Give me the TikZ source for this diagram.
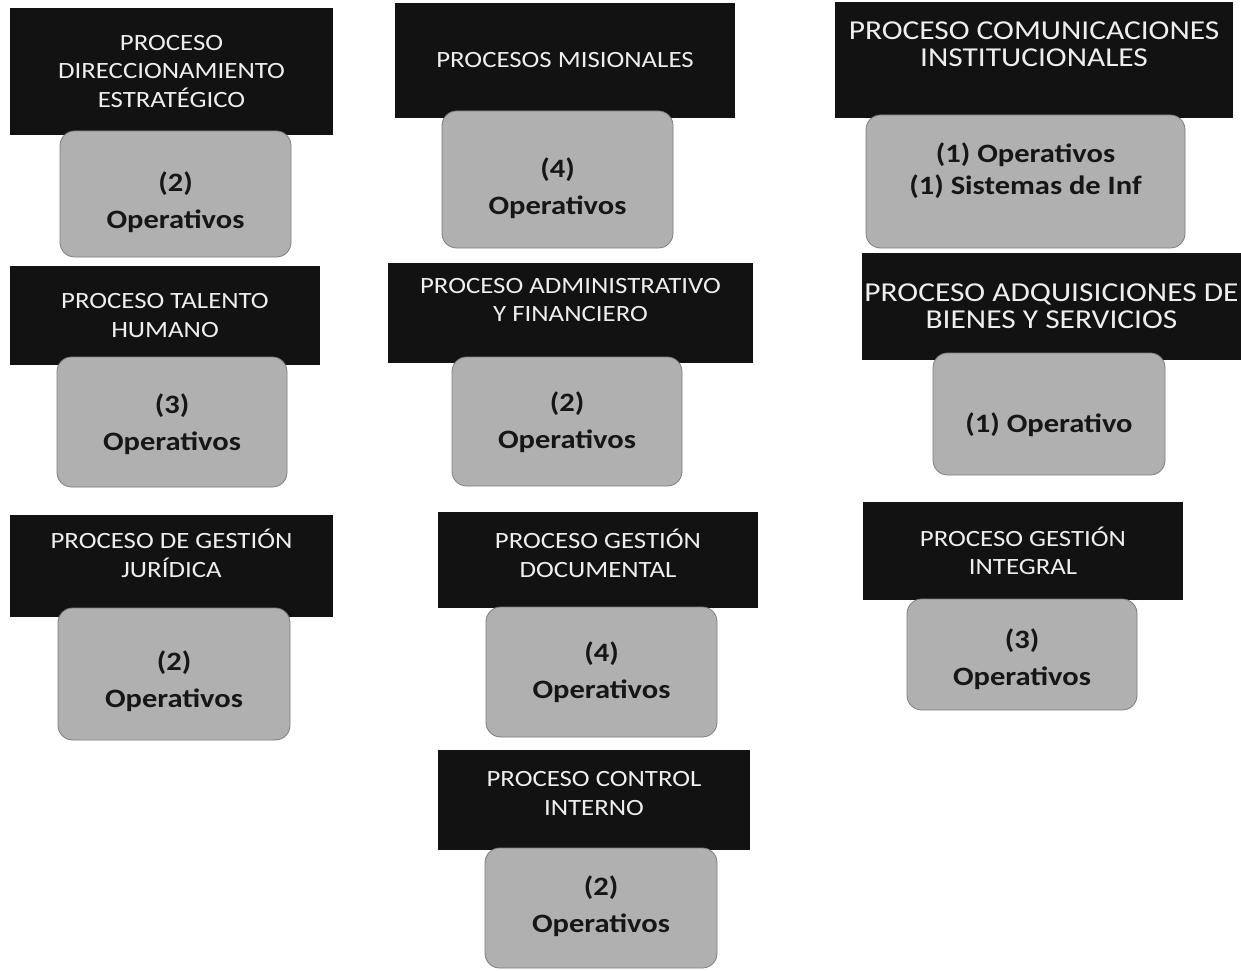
\documentclass[tikz,border=0pt]{standalone}
\usepackage{fontspec}
\setmainfont{Carlito}[FakeStretch=1.15]
\usepackage{tikz}

\definecolor{procfill}{RGB}{18,18,18}
\definecolor{proctext}{RGB}{238,238,238}
\definecolor{opfill}{RGB}{176,176,176}
\definecolor{opline}{RGB}{125,125,125}
\definecolor{optext}{RGB}{22,22,22}

\begin{document}
\begin{tikzpicture}[x=0.75pt,y=-0.75pt,
  proc/.style={fill=procfill,text=proctext,align=center,inner sep=0pt,outer sep=0pt,
    font=\fontsize{17.5}{21.4}\selectfont},
  procbig/.style={proc,font=\fontsize{20.5}{20.5}\selectfont},
  oper/.style={fill=opfill,draw=opline,line width=0.6pt,rounded corners=11pt,
    text=optext,align=center,inner sep=0pt,outer sep=0pt,
    font=\bfseries\fontsize{19.9}{27.75}\selectfont},
  opertight/.style={oper,font=\bfseries\fontsize{19.9}{24}\selectfont},
  drop/.style={text height=#1,text depth=4pt}]
\useasboundingbox (0,0) rectangle (1241,970);
% first column
\node[proc,minimum width=242.25pt,minimum height=95.25pt] (direc) at (171.5,71.5) {PROCESO\\DIRECCIONAMIENTO\\ESTRATÉGICO};
\node[oper,minimum width=173.25pt,minimum height=94.5pt,drop=55pt] (direcop) at (175.5,194) {(2)\\Operativos};
\node[proc,minimum width=232.5pt,minimum height=74.25pt] (talento) at (165,315.5) {PROCESO TALENTO\\HUMANO};
\node[oper,minimum width=172.5pt,minimum height=97.5pt,drop=46pt] (talentoop) at (172,422) {(3)\\Operativos};
\node[proc,minimum width=242.25pt,minimum height=76.5pt,text depth=19.5pt] (juridica) at (171.5,566) {PROCESO DE GESTIÓN\\JURÍDICA};
\node[oper,minimum width=174pt,minimum height=99pt,drop=53.5pt] (juridicaop) at (174,674) {(2)\\Operativos};
% second column
\node[proc,minimum width=255pt,minimum height=86.25pt] (misional) at (565,60.5) {PROCESOS MISIONALES};
\node[oper,minimum width=173.25pt,minimum height=102.75pt,drop=57pt] (misionalop) at (557.5,179.5) {(4)\\Operativos};
\node[proc,minimum width=273.75pt,minimum height=75pt,text depth=19.5pt] (admin) at (570.5,313) {PROCESO ADMINISTRATIVO\\Y FINANCIERO};
\node[oper,minimum width=172.5pt,minimum height=96.75pt,drop=44pt] (adminop) at (567,421.5) {(2)\\Operativos};
\node[proc,minimum width=240pt,minimum height=72pt,text depth=10pt] (docum) at (598,560) {PROCESO GESTIÓN\\DOCUMENTAL};
\node[oper,minimum width=173.25pt,minimum height=97.5pt,drop=43pt] (documop) at (601.5,672) {(4)\\Operativos};
\node[proc,minimum width=234pt,minimum height=75pt,text depth=10pt] (control) at (594,800) {PROCESO CONTROL\\INTERNO};
\node[oper,minimum width=174pt,minimum height=90pt,drop=40pt] (controlop) at (601,908) {(2)\\Operativos};
% third column
\node[procbig,minimum width=298.5pt,minimum height=87pt,text depth=24pt] (comunic) at (1034,60) {PROCESO COMUNICACIONES\\INSTITUCIONALES};
\node[opertight,minimum width=239.25pt,minimum height=99.75pt,text depth=20pt] (comunicop) at (1025.5,181.5) {(1) Operativos\\(1) Sistemas de Inf};
\node[procbig,minimum width=284.25pt,minimum height=80.25pt] (adquis) at (1051.5,306.5) {PROCESO ADQUISICIONES DE\\BIENES Y SERVICIOS};
\node[oper,minimum width=174pt,minimum height=91.5pt,drop=31pt] (adquisop) at (1049,414) {(1) Operativo};
\node[proc,minimum width=240pt,minimum height=73.5pt] (integral) at (1023,551) {PROCESO GESTIÓN\\INTEGRAL};
\node[oper,minimum width=172.5pt,minimum height=83.25pt,drop=50pt] (integralop) at (1022,654.5) {(3)\\Operativos};
\end{tikzpicture}
\end{document}
